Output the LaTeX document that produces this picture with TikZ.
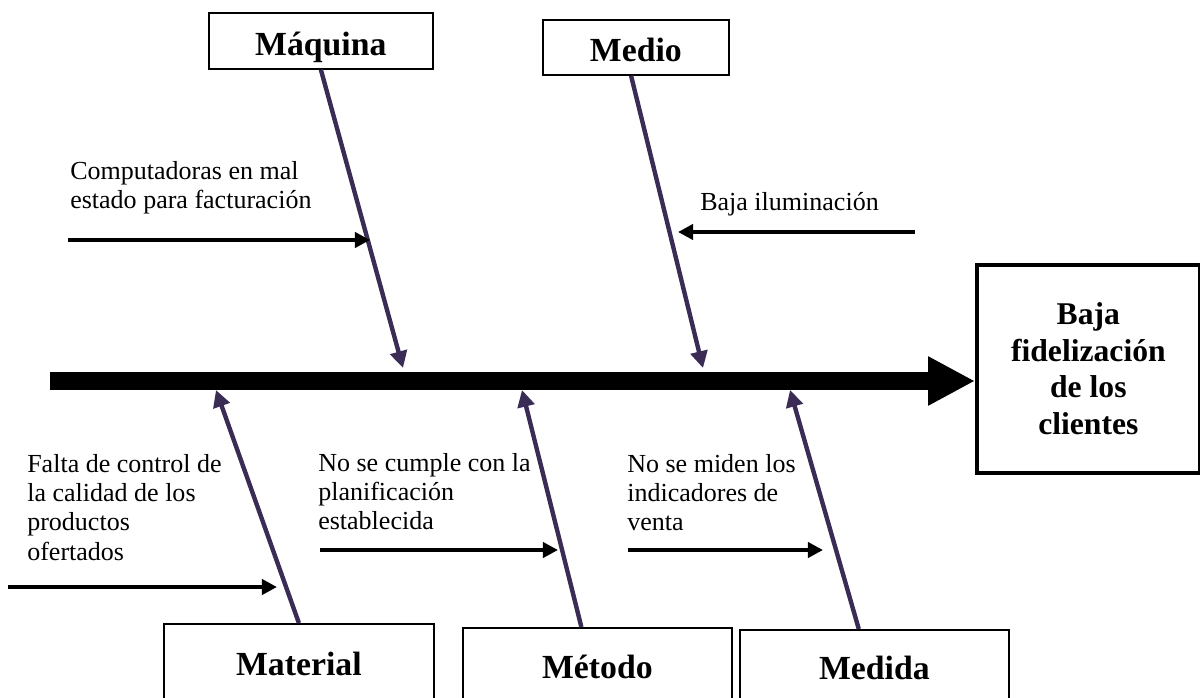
\documentclass[tikz,border=0pt]{standalone}
\usepackage{fontspec}
\setmainfont{Liberation Serif}
\usetikzlibrary{arrows.meta}
\definecolor{bone}{RGB}{59,44,85}
\begin{document}
\begin{tikzpicture}[x=0.025cm,y=-0.025cm,
  catbox/.style={draw=black, line width=1.2pt, inner sep=0pt, anchor=north west,
    font=\fontsize{24}{28}\selectfont\bfseries, text height=21.6pt, text depth=1.2pt},
  resbox/.style={draw=black, line width=2.6pt, inner sep=0pt, anchor=north west, align=center,
    font=\fontsize{22.5}{26}\selectfont\bfseries},
  cause/.style={inner sep=0pt, anchor=north west, align=left, font=\fontsize{18.5}{20.8}\selectfont},
  bonearrow/.style={draw=bone, line width=0.11cm, -{Triangle[length=0.42cm,width=0.42cm]}},
  causearrow/.style={draw=black, line width=0.12cm, -{Triangle[length=0.38cm,width=0.38cm]}},
  spine/.style={draw=black, line width=0.43cm, -{Triangle[length=1.175cm,width=1.15cm]}}]
\useasboundingbox (0,0) rectangle (1200,697);
\clip (0,0) rectangle (1200,697);

% category boxes
\node[catbox, minimum width=5.6cm, minimum height=1.4cm] (maq) at (208,12) {Máquina};
\node[catbox, minimum width=4.65cm, minimum height=1.375cm] (med) at (542,19) {Medio};
\node[catbox, minimum width=6.75cm, minimum height=1.88cm] (mat) at (163,623) {Material};
\node[catbox, minimum width=6.725cm, minimum height=1.83cm] (met) at (462,627) {Método};
\node[catbox, minimum width=6.725cm, minimum height=1.78cm] (mda) at (739,629) {Medida};

% effect box
\node[resbox, minimum width=5.575cm, minimum height=5.2cm] (res) at (975,263) {Baja\\fidelización\\de los\\clientes};

% spine
\coordinate (sp0) at (50,381);
\draw[spine] (sp0) -- (sp0 -| res.west);

% bones
\coordinate (t1) at (403,368);
\coordinate (t2) at (703,368);
\coordinate (t3) at (216,390);
\coordinate (t4) at (522,390);
\coordinate (t5) at (790,390);
\draw[bonearrow] (maq.south) -- (t1);
\draw[bonearrow] ([xshift=-0.12cm]med.south) -- (t2);
\draw[bonearrow] (mat.north) -- (t3);
\draw[bonearrow] ([xshift=-0.4cm]met.north) -- (t4);
\draw[bonearrow] ([xshift=-0.39cm]mda.north) -- (t5);

% causes
\node[cause] (c1) at (70,161) {Computadoras en mal\\estado para facturación};
\node[cause] (c2) at (700,192) {Baja iluminación};
\node[cause] (c3) at (27,454) {Falta de control de\\la calidad de los\\productos\\ofertados};
\node[cause] (c4) at (318,453) {No se cumple con la\\planificación\\establecida};
\node[cause] (c5) at (627,454) {No se miden los\\indicadores de\\venta};

\coordinate (a1s) at (68,240);  \coordinate (a1e) at (370,240);
\coordinate (a2s) at (915,232); \coordinate (a2e) at (678,232);
\coordinate (a3s) at (8,587);   \coordinate (a3e) at (277,587);
\coordinate (a4s) at (320,550); \coordinate (a4e) at (558,550);
\coordinate (a5s) at (628,550); \coordinate (a5e) at (823,550);
\draw[causearrow] (a1s) -- (a1e);
\draw[causearrow] (a2s) -- (a2e);
\draw[causearrow] (a3s) -- (a3e);
\draw[causearrow] (a4s) -- (a4e);
\draw[causearrow] (a5s) -- (a5e);
\end{tikzpicture}
\end{document}
